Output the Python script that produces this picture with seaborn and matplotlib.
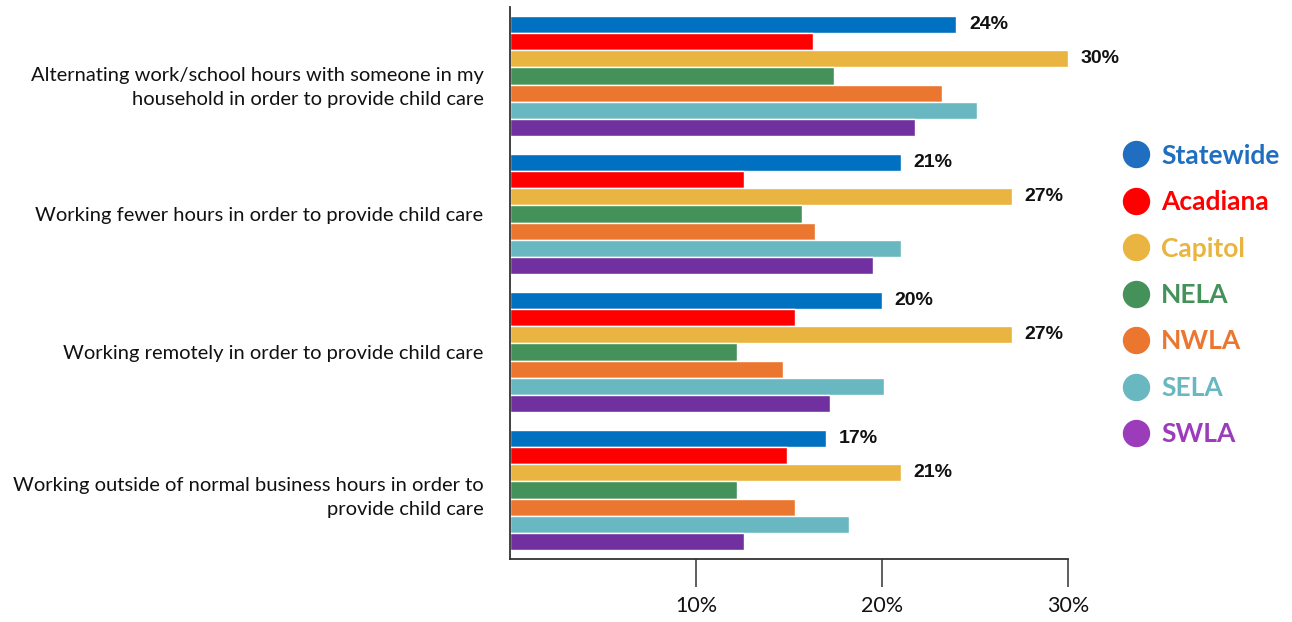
import matplotlib
matplotlib.use("Agg")
import matplotlib.pyplot as plt
import matplotlib.transforms as mtransforms
from matplotlib.lines import Line2D
import numpy as np
import pandas as pd
import seaborn as sns

# Strategies used to provide child care
categories = [
    "Alternating work/school hours with someone in my\nhousehold in order to provide child care",
    "Working fewer hours in order to provide child care",
    "Working remotely in order to provide child care",
    "Working outside of normal business hours in order to\nprovide child care",
]
regions = ["Statewide", "Acadiana", "Capitol", "NELA", "NWLA", "SELA", "SWLA"]

statewide = [24, 21, 20, 17]
acadiana = [16.3, 12.6, 15.3, 14.9]
capitol = [30, 27, 27, 21]
nela = [17.4, 15.7, 12.2, 12.2]
nwla = [23.2, 16.4, 14.7, 15.3]
sela = [25.1, 21.0, 20.1, 18.2]
swla = [21.8, 19.5, 17.2, 12.6]

bar_colors = ["#0070C0", "#FF0000", "#E9B440", "#44925A", "#EB7630", "#69B7C0", "#7030A0"]
legend_colors = ["#1F6EBF", "#FF0000", "#E9B440", "#44925A", "#EB7630", "#69B7C0", "#9C3CBB"]
x_ticks = [10, 20, 30]
x_tick_labels = ["10%", "20%", "30%"]

series = [statewide, acadiana, capitol, nela, nwla, sela, swla]
df = pd.DataFrame(
    [(cat, reg, vals[i]) for reg, vals in zip(regions, series) for i, cat in enumerate(categories)],
    columns=["category", "region", "value"],
)

sns.set_theme(style="white")
plt.rcParams["font.family"] = ["Lato", "DejaVu Sans"]

fig = plt.figure(figsize=(12.92, 6.22), dpi=100)
ax = fig.add_axes([510 / 1292, 1 - 559 / 622, (1068 - 510) / 1292, (559 - 7) / 622])

sns.barplot(
    data=df, y="category", x="value", hue="region", order=categories,
    hue_order=regions, palette=bar_colors, orient="h", width=0.87,
    saturation=1, legend=False, ax=ax,
)

# value labels on the Statewide and Capitol bars
for idx in (0, 2):
    cont = ax.containers[idx]
    vals = series[idx]
    ax.bar_label(cont, labels=[f"{v:.0f}%" for v in vals], padding=9,
                 fontsize=14, fontweight="bold", color="#111111",
                 family=["Liberation Sans", "DejaVu Sans"])

ax.set_xlim(0, 30)
ax.set_ylim(3.5, -0.5)
ax.set_xticks(x_ticks)
ax.set_xticklabels(x_tick_labels)
ax.set_xlabel("")
ax.set_ylabel("")

for s in ("top", "right"):
    ax.spines[s].set_visible(False)
for s in ("left", "bottom"):
    ax.spines[s].set_color("#333333")
    ax.spines[s].set_linewidth(1.3)

ax.tick_params(axis="x", direction="out", length=20, width=1.1, color="#333333",
               pad=7, labelsize=15.5, labelcolor="#111111", bottom=True)
ax.tick_params(axis="y", length=0, pad=19, labelsize=14.5, labelcolor="#111111")

# small downward nudges (in pixels) for the two-line category labels
label_shift = [7, 0, 0, 2.5]
for lab, shift in zip(ax.get_yticklabels(), label_shift):
    lab.set_linespacing(1.48)
    lab.set_horizontalalignment("right")
    if shift:
        lab.set_transform(lab.get_transform() + mtransforms.ScaledTranslation(0, -shift / 100, fig.dpi_scale_trans))

handles = [Line2D([], [], marker="o", linestyle="", markersize=18.7,
                  markerfacecolor=c, markeredgecolor=c) for c in legend_colors]
leg = fig.legend(handles, regions, loc="center left", bbox_to_anchor=(1123 / 1292, 1 - 295 / 622),
                 frameon=False, labelcolor=legend_colors, handletextpad=0.45,
                 labelspacing=0.85, handlelength=1.0, borderpad=0, borderaxespad=0,
                 prop={"family": ["Lato", "DejaVu Sans"], "weight": "bold", "size": 19})

fig.savefig("out.png", dpi=100)
